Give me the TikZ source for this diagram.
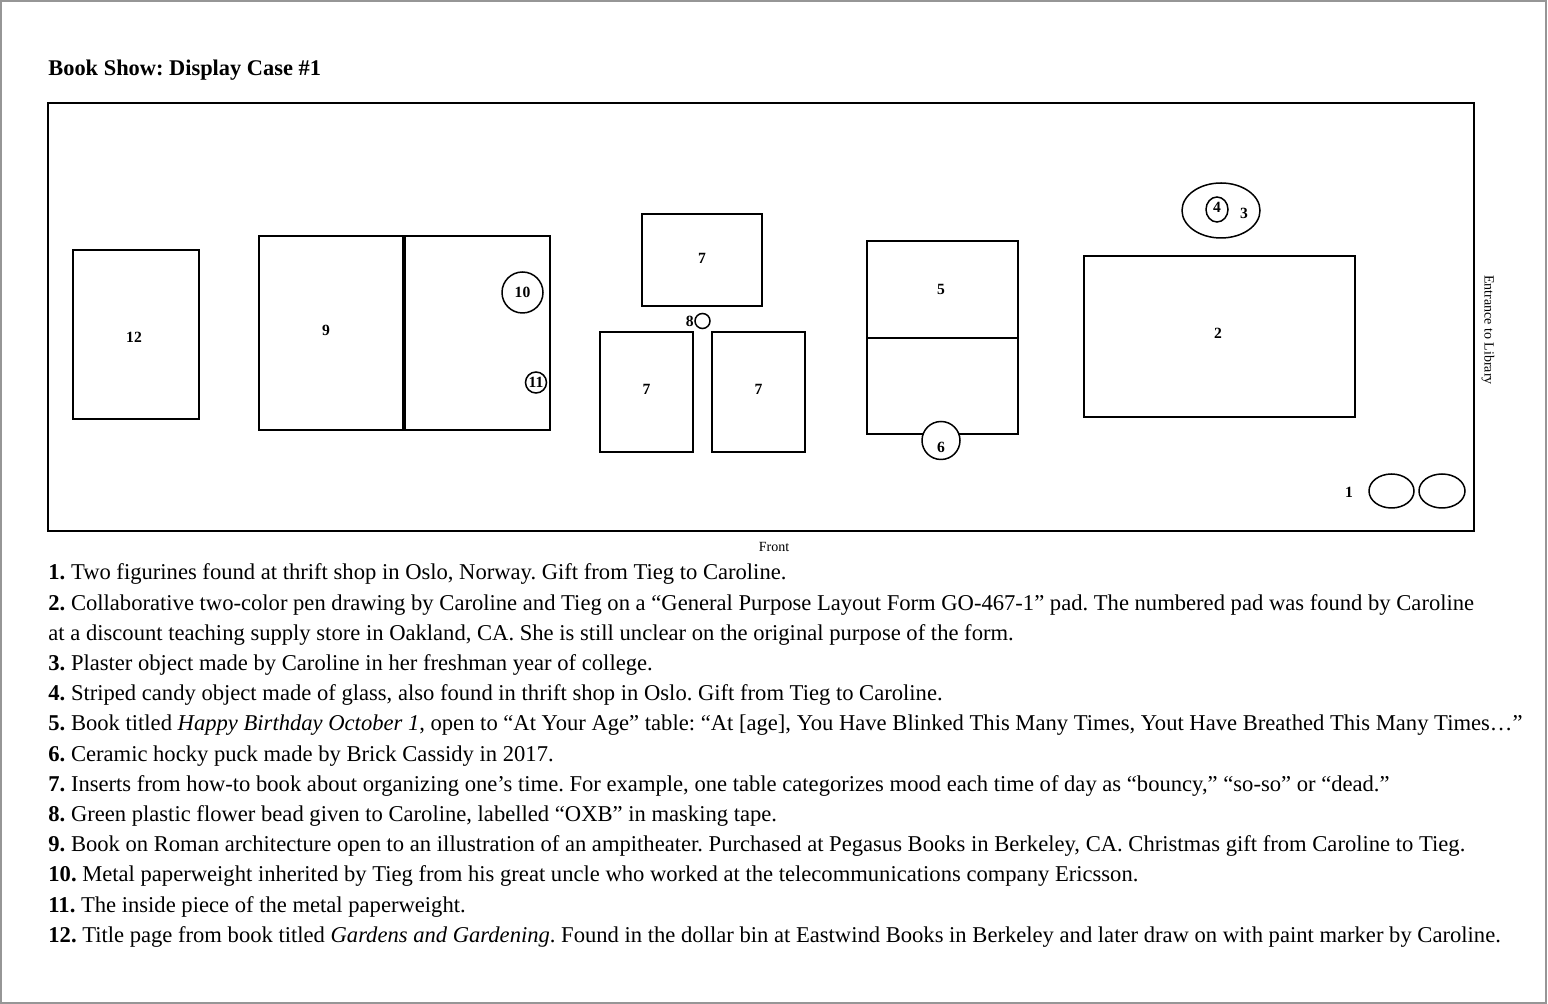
\documentclass[tikz,border=0pt]{standalone}
\usepackage{fontspec}
\setmainfont{Liberation Serif}
\frenchspacing
\definecolor{ink}{RGB}{0,0,0}
\definecolor{framegrey}{RGB}{150,150,150}

\begin{document}
\begin{tikzpicture}[
    x=0.5pt,
    y=-0.5pt,
    line join=miter,
    casewall/.style={
      draw=ink,
      line width=1pt
    },
    piece/.style={
      draw=ink,
      line width=0.75pt
    },
    num/.style={
      font=\fontsize{7.8}{9}\selectfont\bfseries,
      text=ink,
      inner sep=0pt
    },
    note/.style={
      font=\fontsize{7}{8}\selectfont,
      text=ink,
      inner sep=0pt
    },
    casetitle/.style={
      anchor=base west,
      inner sep=0pt,
      font=\fontsize{11.2}{13}\selectfont\bfseries,
      text=ink
    },
    entry/.style={
      anchor=base west,
      inner sep=0pt,
      font=\fontsize{11.3}{13}\selectfont,
      text=ink
    }
]

\useasboundingbox (0,0) rectangle (1548,1004);
\draw[framegrey,line width=1pt] (1,1) rectangle (1546,1003);

% Title and the case outline.
\node[casetitle] (title) at (48,76) {Book Show: Display Case \#1};
\draw[casewall] (48,103) rectangle (1474,531);
\node[note] (front) at (774,547) {Front};
\node[note,rotate=-90] (entrance) at (1488,330) {Entrance to Library};

% Books and prints laid flat.
\draw[piece] (73,250) rectangle (199,419);
\node[num] (n12) at (134,337) {12};
\draw[piece] (259,236) rectangle (403,430);
\node[num] (n9) at (326,330) {9};
\draw[piece] (405,236) rectangle (550,430);

% Paperweight and its inner piece.
\draw[piece] (522.5,292.5) circle[radius=20.5];
\node[num] (n10) at (522.5,292.5) {10};
\draw[piece] (536,382.5) circle[radius=10.5];
\node[num] (n11) at (536,382.5) {11};

% Inserts from the how-to book.
\draw[piece] (642,214) rectangle (762,306);
\node[num] (n7a) at (702,258) {7};
\foreach \x/\nm in {600/b,712/c} {
  \draw[piece] (\x,332) rectangle ++(93,120);
  \node[num] (n7\nm) at ({\x+46.5},389) {7};
}

% Flower bead.
\draw[piece] (702.5,321) circle[radius=7.5];
\node[num,anchor=east] (n8) at (694,321) {8};

% Book and puck.
\draw[piece] (867,241) rectangle (1018,338);
\node[num] (n5) at (941,289) {5};
\draw[piece] (867,338) rectangle (1018,434);
\draw[piece,fill=white] (941,440.5) circle[radius=19];
\node[num] (n6) at (941,447) {6};

% Pen drawing with the plaster object above it.
\draw[piece] (1084,256) rectangle (1355,417);
\node[num] (n2) at (1218,333) {2};
\draw[piece] (1221,210.5) ellipse[x radius=39,y radius=27.5];
\draw[piece] (1217,209.5) ellipse[x radius=11,y radius=12.5];
\node[num] (n4) at (1217,207) {4};
\node[num] (n3) at (1244,213) {3};

% Two figurines.
\draw[piece] (1391.5,491) ellipse[x radius=22.5,y radius=17];
\draw[piece] (1442,491) ellipse[x radius=23,y radius=17];
\node[num] (n1) at (1349,492) {1};

% Key to the numbered objects.
\foreach \k/\txt in {
  0/{\textbf{1.}\ Two figurines found at thrift shop in Oslo, Norway. Gift from Tieg to Caroline.},
  1/{\textbf{2.}\ Collaborative two-color pen drawing by Caroline and Tieg on a “General Purpose Layout Form GO-467-1” pad. The numbered pad was found by Caroline},
  2/{at a discount teaching supply store in Oakland, CA. She is still unclear on the original purpose of the form.},
  3/{\textbf{3.}\ Plaster object made by Caroline in her freshman year of college.},
  4/{\textbf{4.}\ Striped candy object made of glass, also found in thrift shop in Oslo. Gift from Tieg to Caroline.},
  5/{\textbf{5.}\ Book titled \emph{Happy Birthday October 1}, open to “At Your Age” table: “At [age], You Have Blinked This Many Times, Yout Have Breathed This Many Times…”},
  6/{\textbf{6.}\ Ceramic hocky puck made by Brick Cassidy in 2017.},
  7/{\textbf{7.}\ Inserts from how-to book about organizing one’s time. For example, one table categorizes mood each time of day as “bouncy,” “so-so” or “dead.”},
  8/{\textbf{8.}\ Green plastic flower bead given to Caroline, labelled “OXB” in masking tape.},
  9/{\textbf{9.}\ Book on Roman architecture open to an illustration of an ampitheater. Purchased at Pegasus Books in Berkeley, CA. Christmas gift from Caroline to Tieg.},
  10/{\textbf{10.}\ Metal paperweight inherited by Tieg from his great uncle who worked at the telecommunications company Ericsson.},
  11/{\textbf{11.}\ The inside piece of the metal paperweight.},
  12/{\textbf{12.}\ Title page from book titled \emph{Gardens and Gardening}. Found in the dollar bin at Eastwind Books in Berkeley and later draw on with paint marker by Caroline.}
} {
  \node[entry] (line\k) at (48,{580+30.2*\k}) {\txt};
}

\end{tikzpicture}
\end{document}
